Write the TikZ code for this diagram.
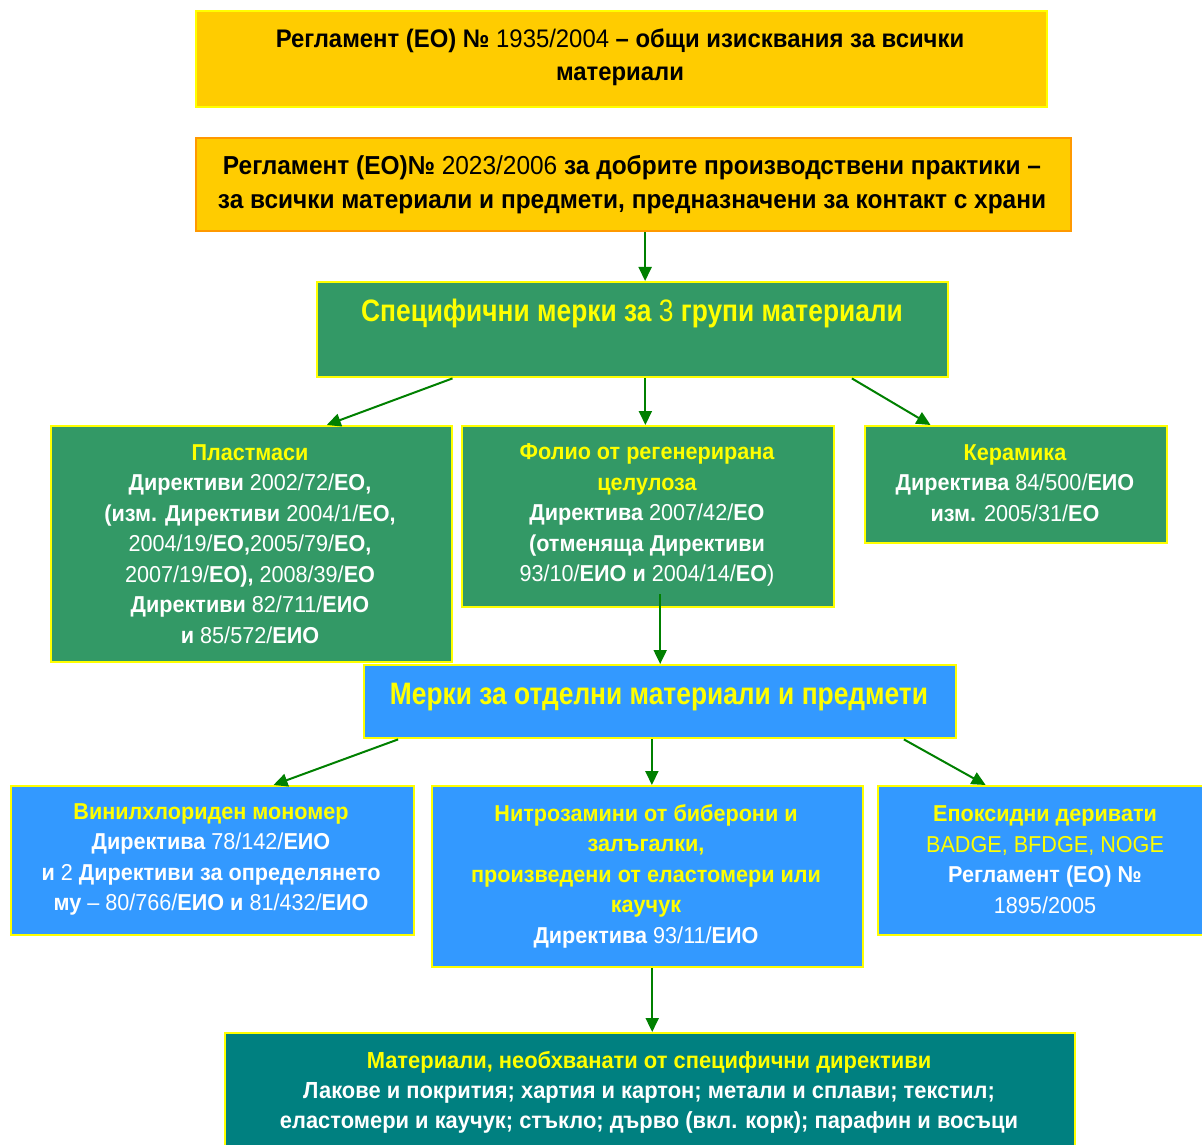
\documentclass[tikz,border=0pt]{standalone}
\usepackage{fontspec}
\setmainfont{Liberation Sans}[FakeStretch=0.94]
\newfontfamily\headfont{Liberation Sans}[FakeStretch=0.85]
\usetikzlibrary{arrows.meta,calc}
\definecolor{gold}{HTML}{FFCC00}
\definecolor{yel}{HTML}{FFFF00}
\definecolor{orng}{HTML}{FF9900}
\definecolor{grn}{HTML}{339966}
\definecolor{blu}{HTML}{3399FF}
\definecolor{teal2}{HTML}{008080}
\definecolor{arr}{HTML}{008000}
\newcommand\nm[1]{{\mdseries #1}}
\newcommand\yl[1]{{\color{yel}#1}}
\tikzset{
  bx/.style={draw=yel, line width=1.2pt, anchor=north west, inner sep=0pt, rectangle},
  txt/.style={align=center, inner sep=0pt, font=\bfseries},
  big/.style={txt, font=\bfseries\fontsize{12.7pt}{16.5pt}\selectfont},
  head/.style={txt, text=yel, font=\headfont\bfseries\fontsize{15.5pt}{18pt}\selectfont},
  body/.style={txt, text=white, font=\bfseries\fontsize{11.5pt}{15.25pt}\selectfont},
  conn/.style={draw=arr, line width=1pt, -{Triangle[length=7pt,width=6.5pt]}}
}
\begin{document}
\begin{tikzpicture}[x=0.5pt,y=-0.5pt]
\useasboundingbox (0,0) rectangle (1202,1144);
% boxes
\node[bx, fill=gold, minimum width=425.5pt, minimum height=48pt] (b1) at (195,10) {};
\node[bx, fill=gold, draw=orng, minimum width=437.5pt, minimum height=46.5pt] (b2) at (195,137) {};
\node[bx, fill=grn, minimum width=315.5pt, minimum height=47.5pt] (b3) at (316,281) {};
\node[bx, fill=grn, minimum width=200.5pt, minimum height=118pt] (b4) at (50,425) {};
\node[bx, fill=grn, minimum width=186pt, minimum height=90.5pt] (b5) at (461,425) {};
\node[bx, fill=grn, minimum width=151pt, minimum height=58.5pt] (b6) at (864,425) {};
\node[bx, fill=blu, minimum width=296pt, minimum height=36.5pt] (b7) at (363,664) {};
\node[bx, fill=blu, minimum width=201.5pt, minimum height=74.5pt] (b8) at (10,785) {};
\node[bx, fill=blu, minimum width=215.5pt, minimum height=90.5pt] (b9) at (431,785) {};
\node[bx, fill=blu, minimum width=168pt, minimum height=74.5pt] (b10) at (877,785) {};
\node[bx, fill=teal2, minimum width=425pt, minimum height=60pt] (b11) at (224,1032) {};
% texts
\node[big] (t1) at (620,57.5) {Регламент (ЕО) № \nm{1935/2004} – общи изисквания за всички\\материали};
\node[big, font=\bfseries\fontsize{13pt}{17pt}\selectfont] (t2) at (632,184.5) {Регламент (ЕО)№ \nm{2023/2006} за добрите производствени практики –\\за всички материали и предмети, предназначени за контакт с храни};
\node[head] (t3) at (632,313) {Специфични мерки за \nm{3} групи материали};
\node[body] (t4) at (250,544) {\yl{Пластмаси}\\Директиви \nm{2002/72/}ЕО,\\(изм. Директиви \nm{2004/1/}ЕО,\\\nm{2004/19/}ЕО,\nm{2005/79/}ЕО,\\\nm{2007/19/}ЕО), \nm{2008/39/}ЕО\\Директиви \nm{82/711/}ЕИО\\и \nm{85/572/}ЕИО};
\node[body] (t5) at (647,515) {\yl{Фолио от регенерирана}\\\yl{целулоза}\\Директива \nm{2007/42/}ЕО\\(отменяща Директиви\\\nm{93/10/}ЕИО и \nm{2004/14/}ЕО\nm{)}};
\node[body] (t6) at (1015,483) {\yl{Керамика}\\Директива \nm{84/500/}ЕИО\\изм. \nm{2005/31/}ЕО};
\node[head] (t7) at (659,697) {Мерки за отделни материали и предмети};
\node[body] (t8) at (211,859.5) {\yl{Винилхлориден мономер}\\Директива \nm{78/142/}ЕИО\\и \nm{2} Директиви за определянето\\му \nm{– 80/766/}ЕИО и \nm{81/432/}ЕИО};
\node[body] (t9) at (646,876) {\yl{Нитрозамини от биберони и}\\\yl{залъгалки,}\\\yl{произведени от еластомери или}\\\yl{каучук}\\Директива \nm{93/11/}ЕИО};
\node[body] (t10) at (1045,859.5) {\yl{Епоксидни деривати}\\\yl{\nm{BADGE, BFDGE, NOGE}}\\Регламент (ЕО) №\\\nm{1895/2005}};
\node[body, font=\bfseries\fontsize{11.65pt}{15pt}\selectfont] (t11) at (649,1092) {\yl{Материали, необхванати от специфични директиви}\\Лакове и покрития; хартия и картон; метали и сплави; текстил;\\еластомери и каучук; стъкло; дърво (вкл. корк); парафин и восъци};
% connector start points
\coordinate (p2) at ($(b2.south west)!0.513!(b2.south east)$);
\coordinate (p3) at ($(b3.south west)!0.520!(b3.south east)$);
\coordinate (p5) at ($(b5.south west)!0.532!(b5.south east)+(0,-14)$);
\coordinate (p7) at ($(b7.south west)!0.486!(b7.south east)$);
\coordinate (p9) at ($(b9.south west)!0.5104!(b9.south east)$);
% connectors
\draw[conn] (p2) -- (p2 |- b3.north);
\draw[conn] ($(b3.south west)!0.2155!(b3.south east)$) -- ($(b4.north west)!0.686!(b4.north east)$);
\draw[conn] (p3) -- (p3 |- b5.north);
\draw[conn] ($(b3.south west)!0.846!(b3.south east)$) -- ($(b6.north west)!0.2185!(b6.north east)$);
\draw[conn] (p5) -- (p5 |- b7.north);
\draw[conn] ($(b7.south west)!0.059!(b7.south east)$) -- ($(b8.north west)!0.65!(b8.north east)$);
\draw[conn] (p7) -- (p7 |- b9.north);
\draw[conn] ($(b7.south west)!0.910!(b7.south east)$) -- ($(b10.north west)!0.321!(b10.north east)$);
\draw[conn] (p9) -- (p9 |- b11.north);
\end{tikzpicture}
\end{document}
